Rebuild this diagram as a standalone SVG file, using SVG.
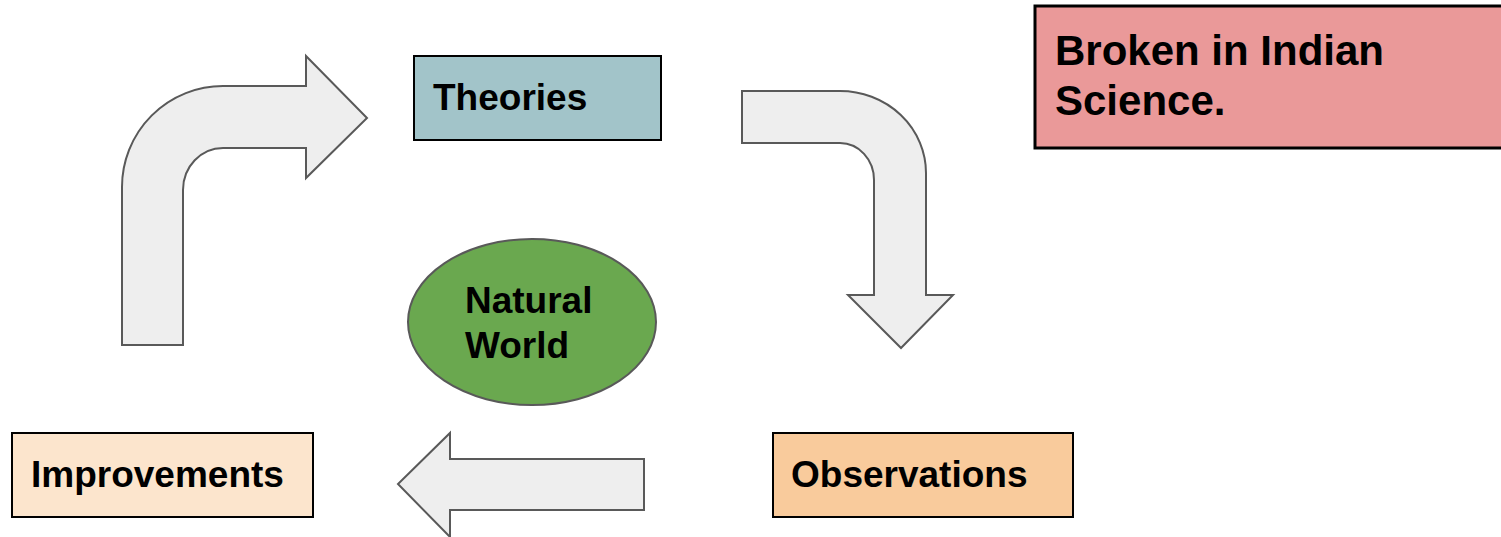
<svg xmlns="http://www.w3.org/2000/svg" width="1501" height="537" viewBox="0 0 1501 537">
  <style>
    .arrow { fill: #eeeeee; stroke: #595959; stroke-width: 2; stroke-linejoin: miter; }
    .box { stroke: #000000; stroke-width: 2; }
    .label { font-family: "Liberation Sans", Arial, sans-serif; font-weight: bold; font-size: 37px; fill: #000000; }
  </style>
  <rect x="0" y="0" width="1501" height="537" fill="#ffffff"/>

  <!-- connectors: block arrows running round the cycle -->
  <g id="connectors">
    <path id="arrow-up-right" class="arrow" d="M122,345 L122,187 A101,101 0 0 1 223,86 L306,86 L306,56 L367,118 L306,178 L306,148 L223,148 A40,42 0 0 0 183,190 L183,345 Z"/>
    <path id="arrow-right-down" class="arrow" d="M742,91 L840,91 A86,82 0 0 1 926,173 L926,295 L953,295 L901,348 L848,295 L874,295 L874,180 A34,37 0 0 0 840,143 L742,143 Z"/>
    <path id="arrow-left" class="arrow" d="M644,459 L644,510 L450,510 L450,537 L398,484 L450,433 L450,459 Z"/>
  </g>

  <g id="theories">
    <rect class="box" x="414" y="56" width="247" height="84" fill="#a2c4c9"/>
    <text class="label" x="433" y="110">Theories</text>
  </g>

  <g id="observations">
    <rect class="box" x="773" y="433" width="300" height="84" fill="#f9cb9c"/>
    <text class="label" x="791" y="487">Observations</text>
  </g>

  <g id="improvements">
    <rect class="box" x="12" y="433" width="301" height="84" fill="#fce5cd"/>
    <text class="label" x="31" y="487">Improvements</text>
  </g>

  <g id="natural-world">
    <ellipse cx="532" cy="322" rx="124" ry="83" fill="#6aa84f" stroke="#595959" stroke-width="2"/>
    <text class="label" x="465" y="313">Natural</text>
    <text class="label" x="465" y="358">World</text>
  </g>

  <g id="broken-note">
    <rect x="1035" y="6" width="480" height="142" fill="#ea9999" stroke="#000000" stroke-width="3"/>
    <text class="label" style="font-size:42px" x="1055" y="65">Broken in Indian</text>
    <text class="label" style="font-size:42px" x="1055" y="115">Science.</text>
  </g>
</svg>
